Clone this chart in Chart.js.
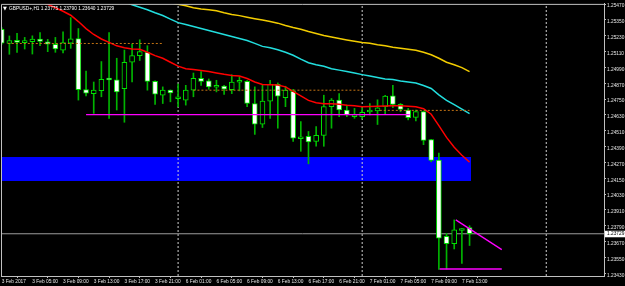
<!DOCTYPE html>
<html>
<head>
<meta charset="utf-8">
<script src="https://cdn.jsdelivr.net/npm/chart.js@4.4.1/dist/chart.umd.min.js"></script>
<style>
  html, body { margin: 0; padding: 0; background: #000; overflow: hidden; }
  #chart { display: block; background: #000; }
</style>
</head>
<body>
<canvas id="chart" width="625" height="286"></canvas>
<script>
// GBPUSD H1, one entry per bar starting 3 Feb 2017
const symbol = "GBPUSD+,H1";

const tickBars = [0, 4, 8, 12, 16, 20, 24, 28, 32, 36, 40, 44, 48, 52, 56, 60];
const tickLabels = ['3 Feb 2017', '3 Feb 05:00', '3 Feb 09:00', '3 Feb 13:00', '3 Feb 17:00', '3 Feb 21:00',
    '6 Feb 01:00', '6 Feb 05:00', '6 Feb 09:00', '6 Feb 13:00', '6 Feb 17:00', '6 Feb 21:00',
    '7 Feb 01:00', '7 Feb 05:00', '7 Feb 09:00', '7 Feb 13:00'];
const daySeparators = [23, 47, 71];

const opens = [
    1.25279, 1.25171, 1.25190, 1.25177, 1.25184, 1.25204, 1.25184, 1.25164, 1.25121, 1.25174,
    1.25209, 1.24821, 1.24791, 1.24814, 1.24902, 1.24896, 1.24829, 1.25029, 1.25079, 1.25104,
    1.24884, 1.24779, 1.24817, 1.24752, 1.24742, 1.24817, 1.24907, 1.24887, 1.24839, 1.24849,
    1.24821, 1.24877, 1.24884, 1.24716, 1.24559, 1.24734, 1.24862, 1.24761, 1.24809, 1.24449,
    1.24467, 1.24429, 1.24474, 1.24692, 1.24742, 1.24667, 1.24617, 1.24617, 1.24652, 1.24659,
    1.24692, 1.24774, 1.24709, 1.24667, 1.24611, 1.24654, 1.24442, 1.24287, 1.23709, 1.23654,
    1.23754, 1.23775];
const highs = [
    1.25291, 1.25228, 1.25247, 1.25217, 1.25229, 1.25254, 1.25202, 1.25217, 1.25259, 1.25367,
    1.25284, 1.24962, 1.24879, 1.25034, 1.25254, 1.25059, 1.25121, 1.25166, 1.25199, 1.25154,
    1.24887, 1.24842, 1.24819, 1.24864, 1.24854, 1.24947, 1.24958, 1.24902, 1.24892, 1.24853,
    1.24934, 1.24917, 1.24890, 1.24842, 1.24857, 1.24892, 1.24872, 1.24847, 1.24824, 1.24579,
    1.24504, 1.24542, 1.24779, 1.24754, 1.24791, 1.24704, 1.24679, 1.24684, 1.24716, 1.24744,
    1.24778, 1.24854, 1.24716, 1.24679, 1.24667, 1.24658, 1.24444, 1.24341, 1.23732, 1.23834,
    1.23769, 1.23790];
const lows = [
    1.25164, 1.25089, 1.25104, 1.25129, 1.25091, 1.25154, 1.25109, 1.25104, 1.25099, 1.25134,
    1.24742, 1.24774, 1.24641, 1.24767, 1.24604, 1.24667, 1.24574, 1.24879, 1.25042, 1.24817,
    1.24709, 1.24716, 1.24729, 1.24692, 1.24704, 1.24767, 1.24854, 1.24824, 1.24804, 1.24784,
    1.24791, 1.24812, 1.24692, 1.24482, 1.24534, 1.24604, 1.24529, 1.24692, 1.24429, 1.24354,
    1.24259, 1.24392, 1.24392, 1.24529, 1.24617, 1.24617, 1.24604, 1.24602, 1.24629, 1.24557,
    1.24632, 1.24684, 1.24654, 1.24592, 1.24584, 1.24404, 1.24274, 1.23459, 1.23462, 1.23614,
    1.23504, 1.23640];
const closes = [
    1.25174, 1.25192, 1.25179, 1.25184, 1.25204, 1.25186, 1.25166, 1.25129, 1.25177, 1.25207,
    1.24821, 1.24794, 1.24817, 1.24899, 1.24894, 1.24804, 1.25029, 1.25079, 1.25109, 1.24884,
    1.24787, 1.24817, 1.24797, 1.24755, 1.24817, 1.24907, 1.24884, 1.24842, 1.24851, 1.24824,
    1.24879, 1.24879, 1.24716, 1.24560, 1.24734, 1.24862, 1.24772, 1.24817, 1.24454, 1.24464,
    1.24425, 1.24474, 1.24692, 1.24742, 1.24667, 1.24629, 1.24628, 1.24650, 1.24658, 1.24684,
    1.24772, 1.24709, 1.24671, 1.24609, 1.24654, 1.24437, 1.24284, 1.23696, 1.23654, 1.23759,
    1.23765, 1.23729];

// moving averages (fast = red, mid = cyan, slow = yellow)
const maFast = [
    1.25629, 1.25607, 1.25584, 1.25554, 1.25524, 1.25494, 1.25468, 1.25442, 1.25415, 1.25385,
    1.25337, 1.25284, 1.25239, 1.25205, 1.25179, 1.25153, 1.25138, 1.25130, 1.25127, 1.25104,
    1.25079, 1.25059, 1.25029, 1.24999, 1.24980, 1.24973, 1.24967, 1.24958, 1.24947, 1.24937,
    1.24929, 1.24924, 1.24905, 1.24879, 1.24860, 1.24859, 1.24857, 1.24842, 1.24808, 1.24774,
    1.24740, 1.24722, 1.24714, 1.24714, 1.24710, 1.24703, 1.24699, 1.24692, 1.24693, 1.24695,
    1.24697, 1.24699, 1.24699, 1.24695, 1.24692, 1.24677, 1.24635, 1.24549, 1.24459, 1.24384,
    1.24324, 1.24272];
const maMid = [
    1.25787, 1.25768, 1.25749, 1.25730, 1.25712, 1.25693, 1.25674, 1.25655, 1.25637, 1.25618,
    1.25599, 1.25580, 1.25562, 1.25543, 1.25524, 1.25505, 1.25487, 1.25464, 1.25445, 1.25427,
    1.25404, 1.25383, 1.25355, 1.25329, 1.25314, 1.25299, 1.25284, 1.25269, 1.25254, 1.25239,
    1.25224, 1.25209, 1.25194, 1.25172, 1.25149, 1.25138, 1.25124, 1.25104, 1.25082, 1.25052,
    1.25025, 1.25010, 1.24999, 1.24980, 1.24969, 1.24958, 1.24947, 1.24935, 1.24924, 1.24913,
    1.24902, 1.24898, 1.24887, 1.24879, 1.24872, 1.24853, 1.24830, 1.24782, 1.24740, 1.24707,
    1.24673, 1.24639];
const maSlow = [
    1.25727, 1.25715, 1.25704, 1.25693, 1.25682, 1.25670, 1.25659, 1.25648, 1.25637, 1.25625,
    1.25614, 1.25603, 1.25592, 1.25580, 1.25569, 1.25558, 1.25547, 1.25535, 1.25524, 1.25513,
    1.25502, 1.25490, 1.25479, 1.25468, 1.25457, 1.25442, 1.25432, 1.25427, 1.25419, 1.25404,
    1.25391, 1.25382, 1.25370, 1.25359, 1.25349, 1.25337, 1.25325, 1.25307, 1.25292, 1.25279,
    1.25262, 1.25247, 1.25232, 1.25220, 1.25209, 1.25198, 1.25188, 1.25179, 1.25172, 1.25162,
    1.25154, 1.25142, 1.25134, 1.25127, 1.25119, 1.25104, 1.25085, 1.25059, 1.25029, 1.25010,
    1.24988, 1.24958];

const priceTicks = [1.23430, 1.23550, 1.23670, 1.23790, 1.23910, 1.24030, 1.24150, 1.24270, 1.24390,
    1.24510, 1.24630, 1.24750, 1.24870, 1.24990, 1.25110, 1.25230, 1.25350, 1.25470];
const priceMin = 1.23409;
const priceMax = 1.25471;
const barMin = -0.09;
const barMax = 78.53;

// drawn objects: [fromBar, toBar, price(s)]
const zone = [-1, 61.2, 1.24129, 1.24311];
const dottedLevels = [[0.8, 21, 1.25171], [25, 47.1, 1.24817], [49.3, 61, 1.24664]];
const magentaLines = [[11, 53.2, 1.24632, 1.24632], [57.1, 65.2, 1.23462, 1.23462], [59.2, 65.2, 1.23834, 1.23609]];

const last = closes.length - 1;
const fontFamily = '"Liberation Sans", Arial, sans-serif';
const fontSize = 4.8;
const green = '#00e000';
const wickGreen = '#00b400';

function seg(a, b, p1, p2) {
    return [{x: a, y: p1}, {x: b, y: p2}];
}
function lineSet(data, color, width, order, dash) {
    return {
        type: 'line', data: data, borderColor: color, borderWidth: width, borderDash: dash || [],
        pointRadius: 0, pointHitRadius: 0, tension: 0, fill: false, order: order
    };
}

const datasets = [];
// blue zone (filled between two edges)
datasets.push(lineSet(seg(zone[0], zone[1], zone[3], zone[3]), 'rgba(0,0,0,0)', 0, 20));
let zoneBottom = lineSet(seg(zone[0], zone[1], zone[2], zone[2]), 'rgba(0,0,0,0)', 0, 19);
zoneBottom.fill = '-1';
zoneBottom.backgroundColor = '#0000ff';
datasets.push(zoneBottom);

daySeparators.forEach(d => {
    datasets.push(lineSet(seg(d, d, priceMin, priceMax), '#cfcfcf', 1, 18, [2, 2]));
});
datasets.push(lineSet(seg(barMin - 1, barMax + 1, closes[last], closes[last]), '#9c9c9c', 1, 17));

datasets.push({
    type: 'bar',
    data: lows.map((l, i) => ({x: i, y: [l, highs[i]]})),
    backgroundColor: wickGreen,
    borderWidth: 0,
    barThickness: 1,
    grouped: false,
    order: 10
});
datasets.push({
    type: 'bar',
    data: opens.map((o, i) => ({x: i, y: [o, closes[i]]})),
    backgroundColor: opens.map((o, i) => closes[i] < o ? '#ffffff' : '#000000'),
    borderColor: green,
    borderWidth: 1,
    borderSkipped: false,
    barThickness: 5,
    minBarLength: 2,
    grouped: false,
    order: 9
});

datasets.push(lineSet(maSlow.map((v, i) => ({x: i, y: v})), '#f2cc00', 1.5, 6));
datasets.push(lineSet(maMid.map((v, i) => ({x: i, y: v})), '#22dede', 1.5, 5));
datasets.push(lineSet(maFast.map((v, i) => ({x: i, y: v})), '#ff0000', 1.5, 4));

dottedLevels.forEach(l => {
    datasets.push(lineSet(seg(l[0], l[1], l[2], l[2]), '#c47414', 1, 3, [2, 2]));
});
magentaLines.forEach(l => {
    datasets.push(lineSet(seg(l[0], l[1], l[2], l[3]), '#ff00ff', 1.3, 2));
});

const chromePlugin = {
    id: 'chrome',
    afterDraw(chart) {
        const ctx = chart.ctx;
        const a = chart.chartArea;
        ctx.save();
        // frame (top and left edges)
        ctx.strokeStyle = '#c0c0c0';
        ctx.lineWidth = 1;
        ctx.beginPath();
        ctx.moveTo(a.left + 0.5, a.bottom);
        ctx.lineTo(a.left + 0.5, a.top + 0.5);
        ctx.lineTo(a.right, a.top + 0.5);
        ctx.stroke();
        // header text
        ctx.fillStyle = '#ffffff';
        ctx.textBaseline = 'middle';
        ctx.textAlign = 'left';
        ctx.font = '5px "DejaVu Sans", sans-serif';
        ctx.fillText('▼', a.left + 2, a.top + 4.5);
        ctx.font = fontSize + 'px ' + fontFamily;
        const ohlc = [opens[last], highs[last], lows[last], closes[last]].map(v => v.toFixed(5)).join(' ');
        ctx.fillText(symbol + ' ' + ohlc, a.left + 8, a.top + 4.5);
        // current price box
        const y = chart.scales.y.getPixelForValue(closes[last]);
        ctx.fillStyle = '#ffffff';
        ctx.fillRect(a.right + 1, y - 3, chart.width - a.right - 1, 6.5);
        ctx.fillStyle = '#000000';
        ctx.fillText(closes[last].toFixed(5), a.right + 3, y + 0.3);
        ctx.restore();
    }
};

new Chart(document.getElementById('chart'), {
    type: 'line',
    data: { datasets: datasets },
    plugins: [chromePlugin],
    options: {
        responsive: false,
        animation: false,
        devicePixelRatio: 1,
        layout: { padding: { left: 1, top: 1, right: 0, bottom: 0 } },
        plugins: { legend: { display: false }, tooltip: { enabled: false } },
        scales: {
            x: {
                type: 'linear',
                position: 'bottom',
                min: barMin,
                max: barMax,
                offset: false,
                afterBuildTicks: s => { s.ticks = tickBars.map(v => ({value: v})); },
                afterFit: s => { s.height = 10; },
                grid: { display: true, drawOnChartArea: false, drawTicks: true, tickLength: 2, color: '#c0c0c0' },
                border: { display: true, color: '#c0c0c0' },
                ticks: {
                    callback: (v, i) => tickLabels[i],
                    align: 'start',
                    autoSkip: false,
                    maxRotation: 0,
                    padding: 1,
                    color: '#e6e6e6',
                    font: { family: fontFamily, size: fontSize }
                }
            },
            y: {
                type: 'linear',
                position: 'right',
                min: priceMin,
                max: priceMax,
                afterBuildTicks: s => { s.ticks = priceTicks.map(v => ({value: v})); },
                afterFit: s => { s.width = 21; },
                grid: { display: true, drawOnChartArea: false, drawTicks: true, tickLength: 2, color: '#c0c0c0' },
                border: { display: true, color: '#c0c0c0' },
                ticks: {
                    callback: v => v.toFixed(5),
                    autoSkip: false,
                    padding: 1,
                    labelOffset: 2,
                    color: '#e6e6e6',
                    font: { family: fontFamily, size: fontSize }
                }
            }
        }
    }
});
</script>
</body>
</html>
